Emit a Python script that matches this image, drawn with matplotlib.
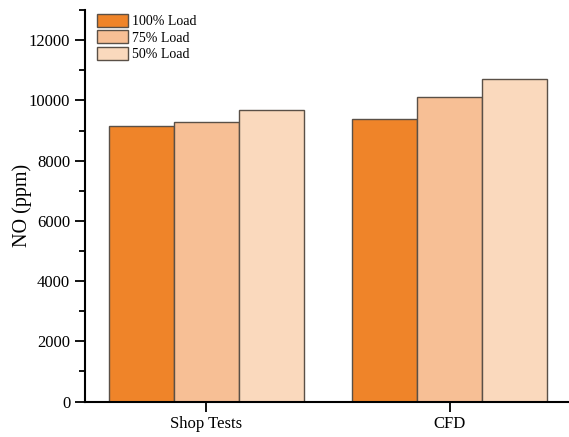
import numpy as np
import matplotlib
matplotlib.use("Agg")
import matplotlib.pyplot as plt
from matplotlib.ticker import MultipleLocator

# NO emissions per load case
categories = ["Shop Tests", "CFD"]
series_labels = ["100% Load", "75% Load", "50% Load"]
load_100 = [9150, 9380]
load_75 = [9280, 10100]
load_50 = [9680, 10720]

colors = ["#EF8429", "#F7BF95", "#FAD9BD"]


def main():
    plt.rcParams["font.family"] = ["Liberation Serif", "DejaVu Serif"]

    fig = plt.figure(figsize=(5.69, 4.37), dpi=100)
    ax = fig.add_axes([0.149, 0.081, 0.851, 0.896])

    x = np.arange(len(categories))
    width = 0.267
    for i, (vals, lab) in enumerate(zip([load_100, load_75, load_50], series_labels)):
        ax.bar(x + (i - 1) * width, vals, width, color=colors[i], label=lab,
               edgecolor="#5a5047", linewidth=1.0)

    ax.set_xlim(-0.5, 1.49)
    ax.set_ylim(0, 13000)
    ax.set_xticks(x)
    ax.set_xticklabels(categories, fontsize=12)
    ax.yaxis.set_major_locator(MultipleLocator(2000))
    ax.yaxis.set_minor_locator(MultipleLocator(1000))
    ax.tick_params(axis="y", which="major", direction="out", length=7, width=1.3, labelsize=12)
    ax.tick_params(axis="y", which="minor", direction="out", length=4, width=1.3)
    ax.tick_params(axis="x", which="major", direction="out", length=7, width=1.3)
    ax.set_ylabel("NO (ppm)", fontsize=14.5)
    ax.yaxis.set_label_coords(-0.11, 0.5)

    for side in ["top", "right"]:
        ax.spines[side].set_visible(False)
    for side in ["left", "bottom"]:
        ax.spines[side].set_linewidth(1.5)

    ax.legend(loc="upper left", bbox_to_anchor=(0.014, 1.005), frameon=False, fontsize=10,
              handlelength=2.2, handleheight=1.1, labelspacing=0.15, handletextpad=0.3,
              borderaxespad=0.0)

    plt.savefig("out.png", dpi=100)
    plt.close()


if __name__ == "__main__":
    main()
